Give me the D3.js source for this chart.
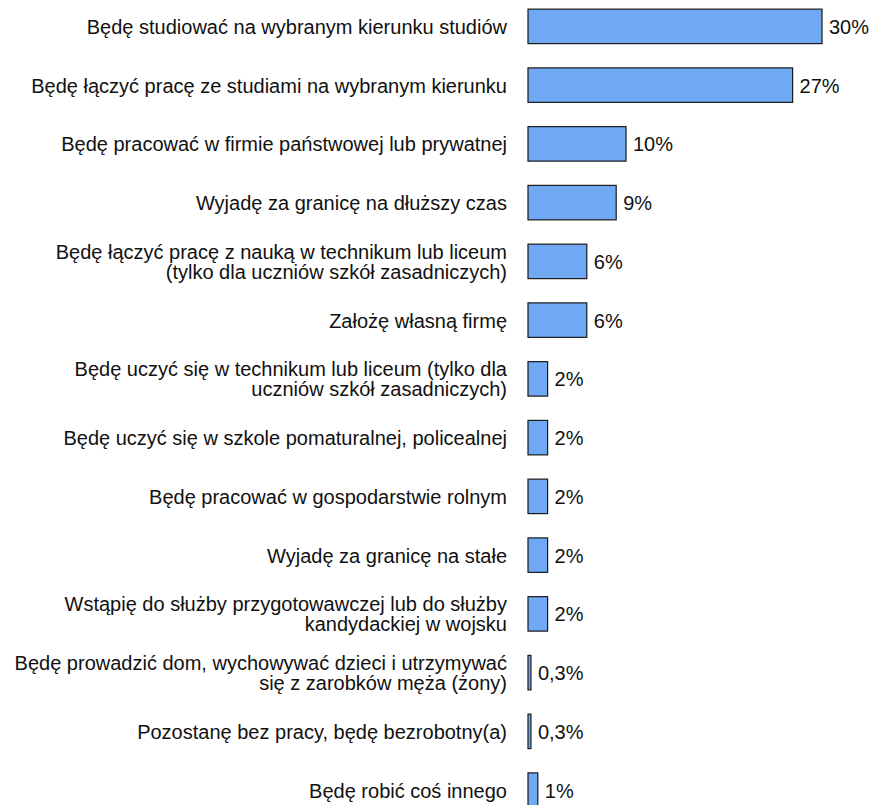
<!DOCTYPE html>
<html>
<head>
<meta charset="utf-8">
<script src="https://cdn.jsdelivr.net/npm/d3@7"></script>
<style>
  html, body { margin: 0; padding: 0; background: #fff; }
  svg { display: block; }
  text { font-family: "Liberation Sans", Arial, sans-serif; font-size: 20px; fill: #111; }
</style>
</head>
<body>
<svg id="chart" width="870" height="805"></svg>
<script>
const categories = [
  "Będę studiować na wybranym kierunku studiów",
  "Będę łączyć pracę ze studiami na wybranym kierunku",
  "Będę pracować w firmie państwowej lub prywatnej",
  "Wyjadę za granicę na dłuższy czas",
  "Będę łączyć pracę z nauką w technikum lub liceum\n(tylko dla uczniów szkół zasadniczych)",
  "Założę własną firmę",
  "Będę uczyć się w technikum lub liceum (tylko dla\nuczniów szkół zasadniczych)",
  "Będę uczyć się w szkole pomaturalnej, policealnej",
  "Będę pracować w gospodarstwie rolnym",
  "Wyjadę za granicę na stałe",
  "Wstąpię do służby przygotowawczej lub do służby\nkandydackiej w wojsku",
  "Będę prowadzić dom, wychowywać dzieci i utrzymywać\nsię z zarobków męża (żony)",
  "Pozostanę bez pracy, będę bezrobotny(a)",
  "Będę robić coś innego"
];
const values = [30, 27, 10, 9, 6, 6, 2, 2, 2, 2, 2, 0.3, 0.3, 1];
const valueLabels = ["30%", "27%", "10%", "9%", "6%", "6%", "2%", "2%", "2%", "2%", "2%", "0,3%", "0,3%", "1%"];

const svg = d3.select("#chart");
const x = d3.scaleLinear().domain([0, 30]).range([528, 822]);
const y = d3.scaleBand().domain(categories).range([-3, 819.5]).paddingInner(0.413).paddingOuter(0.2065);

const rows = categories.map((c, i) => ({ c, v: values[i], l: valueLabels[i] }));

svg.selectAll("rect.bar").data(rows).join("rect")
  .attr("class", "bar")
  .attr("x", x(0))
  .attr("y", d => y(d.c))
  .attr("width", d => x(d.v) - x(0))
  .attr("height", y.bandwidth())
  .attr("fill", "#6fa9f4")
  .attr("stroke", "#1a1a1a")
  .attr("stroke-width", 1.2);

svg.selectAll("text.val").data(rows).join("text")
  .attr("class", "val")
  .attr("x", d => x(d.v) + 7)
  .attr("y", d => y(d.c) + y.bandwidth() / 2)
  .attr("dy", "0.37em")
  .text(d => d.l);

const lineH = 20;
const cat = svg.selectAll("text.cat").data(rows).join("text")
  .attr("class", "cat")
  .attr("text-anchor", "end")
  .attr("x", 507)
  .attr("y", d => y(d.c) + y.bandwidth() / 2);
cat.each(function(d) {
  const lines = d.c.split("\n");
  const n = lines.length;
  d3.select(this).selectAll("tspan").data(lines).join("tspan")
    .attr("x", 507)
    .attr("dy", (t, i) => i === 0 ? ((0.37 * 20) - (n - 1) * lineH / 2) + "px" : lineH + "px")
    .text(t => t);
});
</script>
</body>
</html>
